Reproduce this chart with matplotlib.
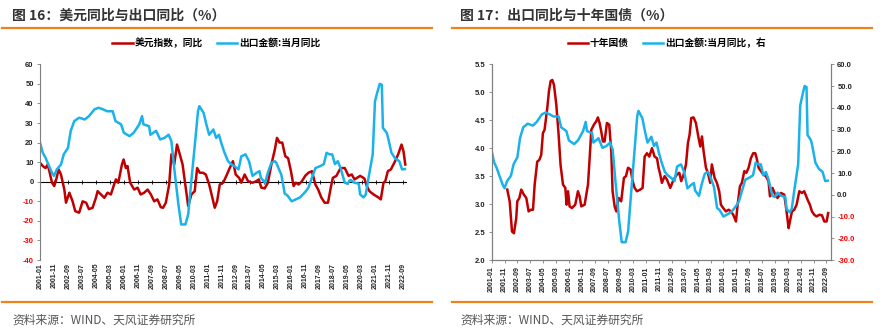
import matplotlib
matplotlib.use('Agg')
import matplotlib.pyplot as plt
from matplotlib.lines import Line2D

plt.rcParams['font.family'] = ['Noto Sans CJK SC', 'DejaVu Sans']

RED = '#C00000'
BLUE = '#1AB2EA'
ORANGE = '#F0821E'
GREY = '#7F7F7F'
TICKFONT = 'Liberation Sans'

# month index: 0 = 2001-01
tick_pos = list(range(0, 261, 10))
tick_labels = ['2001-01', '2001-11', '2002-09', '2003-07', '2004-05', '2005-03', '2006-01',
               '2006-11', '2007-09', '2008-07', '2009-05', '2010-03', '2011-01', '2011-11',
               '2012-09', '2013-07', '2014-05', '2015-03', '2016-01', '2016-11', '2017-09',
               '2018-07', '2019-05', '2020-03', '2021-01', '2021-11', '2022-09']

# 美元指数，同比 (%)
usd_m = [0, 2, 4, 5.5, 6.7, 8.6, 10.2, 11.9, 13.3, 15, 17.4, 18.6, 21, 23.3, 25.2, 28, 30.5, 33,
         35, 37.6, 40, 41.2, 43.6, 46, 48.3, 50.7, 53, 54.3, 56, 58.6, 59.8, 61.4, 62.6, 64.5,
         67.4, 69.8, 72, 74.5, 77, 79.3, 81.7, 84, 86.4, 88, 90, 92.4, 94, 96, 98, 100, 102,
         103.6, 106, 108.3, 110.7, 112.4, 114.3, 116.5, 118.6, 121, 123.3, 125, 126.7, 128.6,
         131, 133.3, 135.7, 138, 140, 142.4, 144, 146.4, 148.8, 152, 154.8, 156.5, 158.3, 160.7,
         163, 165.5, 168, 169.5, 171.4, 173.3, 174.5, 175.5, 177.5, 179.5, 181.4, 183, 185,
         187.4, 189.7, 192, 194.5, 197, 199, 201.2, 203.6, 206, 208, 209.5, 212, 215, 218,
         220.7, 223, 225, 229, 232, 233.8, 235.6, 238.6, 242, 243.8, 245.7, 247, 248.8, 251,
         254, 256.2, 258.6, 260, 261.3]
usd_v = [9.7, 8, 7, 8.8, 5.4, -0.5, -2.2, 2, 6.3, 3.7, -4, -10.7, -5.6, -10, -15, -15.8, -10,
         -10.7, -14, -13.3, -8.2, -4.8, -6.5, -8.2, -5.6, -6.5, -1.4, 1.2, -0.5, 8.8, 11.4, 7, 8,
         -0.5, -4, -3, -6.5, -5.6, -4, -6.5, -10, -9, -13, -13.3, -10.7, -1.4, 14, 8.8, 19, 14,
         8.8, 0.3, -12.4, -6.5, -4.8, 7, 4.6, 4.6, 3.7, -1.4, -8.2, -13.3, -10, -1.4, -0.5, 3,
         7, 10.5, 3.7, 2, -0.5, 3.7, 0.3, -0.5, 0.3, 1.2, -3, -3.4, -0.5, 8.8, 16.5, 22.4, 20,
         20, 16, 13, 12, 5.4, -2.2, -0.5, -1.4, 0.3, 3, 4.6, 5.4, -1.4, -4, -8, -10.7, -10.7,
         -3, 2, 3, 7, 7, 3, 3.7, 1.2, 3, 1.7, -2.2, -4.8, -6.5, -8, -9, -0.5, 0.3, 5.4, 6.3,
         10.5, 14, 19, 15.6, 8.8]

# 出口金额:当月同比 (%)
exp_m = [0, 2, 4, 6, 8.6, 10, 12, 15, 17, 20, 22, 24.5, 28, 32, 35, 39, 42, 45, 48, 52, 54, 58,
         60, 64, 67, 71, 73, 74, 78, 79, 83, 86, 89, 92, 94, 96, 99, 101, 104, 106, 108, 111,
         113, 114, 117, 119, 121, 124, 126, 128, 130, 132, 134.5, 137, 139, 142, 144, 147,
         149.5, 152, 155, 157, 158, 161, 163, 165.5, 168, 169, 171, 172.6, 174.3, 175, 177, 180,
         183, 186, 188, 190, 192, 194.5, 197, 200.5, 203, 205, 207, 209, 211, 213, 215, 218,
         220, 222, 225, 228, 229, 231.4, 233, 235, 238, 239.6, 241, 243, 244.5, 245.3, 248,
         249, 251.4, 254, 257, 259, 261]
exp_v = [20, 14.8, 12.2, 8.8, 4.6, 3, 6.3, 8.8, 14, 17.3, 26, 31, 32.7, 31.8, 33.5, 37, 37.8,
         37, 36, 36, 31, 29.3, 25, 23.3, 25, 29.3, 33.5, 29.3, 28.4, 24, 26, 21.6, 22.4, 24,
         20.7, 7, -11.6, -21.8, -21.8, -16.7, -1.4, 20.7, 36, 38.6, 35.2, 29.3, 24, 26.7, 22.4,
         24, 19, 14.8, 10.5, 8.8, 8, 6.3, 13, 14, 10.5, 3, 4.6, 5.4, 2, -0.5, 4.6, 9.7, 10.5,
         9.7, 6.3, 3.7, -3, -6, -7, -10, -9, -8, -6.5, -5, -3, 2, 7, 8, 9, 14.8, 14, 14, 9,
         10.5, 7, -0.5, -1, 1, -0.5, -1, -6.5, -8, -6.5, 2, 14, 41, 45, 50, 49.5, 27.5, 25,
         22.4, 14.8, 12, 10.5, 6.3, 6.5]

# 十年国债 (%)
bond_m = [12.1, 14, 15.8, 17.3, 19.1, 19.9, 21.5, 23, 25, 26.9, 28.7, 30.5, 32.1, 33.4, 35.4,
          37, 38.5, 39.8, 41.1, 43.2, 44.5, 45.8, 47.1, 48.4, 50.2, 52, 53.5, 55.4, 57.2, 58.2,
          59.3, 60.5, 62.3, 64.9, 67, 68.3, 69.6, 72.2, 74.8, 76.1, 77.4, 79.4, 81.2, 82.5, 83.8,
          85.1, 86.4, 87.7, 89.5, 91.3, 92.9, 93.9, 95.5, 96.8, 98.6, 100.6, 102.7, 104.3, 105.9,
          107.9, 109.5, 111, 112.8, 115.4, 117.2, 118.8, 120.6, 122.4, 124.5, 126.5, 128.4,
          129.6, 130.9, 132.2, 134.3, 136.1, 138.7, 141.3, 143.9, 145.7, 147.2, 149.1, 150.9,
          152.4, 153.7, 155, 156.8, 158.6, 160.7, 162, 163.3, 164.6, 166.4, 167.9, 169.7, 171,
          173.1, 174.9, 176.7, 178, 179.8, 181.9, 184, 185.8, 187.6, 189.7, 191, 192.8, 194.3,
          196.2, 197.8, 199.5, 201.3, 203.1, 204.7, 205.8, 207.3, 209.1, 210.9, 213, 215, 216.1,
          218.1, 220.2, 222, 224.6, 227.2, 229, 230.6, 231.6, 233.2, 235, 236.8, 238.9, 240.9,
          242.7, 245.3, 247.1, 248.7, 250.5, 252.3, 254.4, 256.5, 258.3, 260.1, 261.3]
bond_v = [3.26, 3.05, 2.51, 2.48, 2.75, 3.05, 3.11, 3.26, 3.17, 3.11, 2.87, 2.9, 2.9, 3.35, 3.76,
          3.79, 3.88, 4.27, 4.33, 4.72, 5.02, 5.2, 5.22, 5.13, 4.78, 4.24, 3.7, 3.35, 3.29, 2.99,
          3.23, 2.96, 2.93, 2.99, 3.23, 3.14, 2.96, 2.99, 3.35, 3.82, 4.33, 4.42, 4.48, 4.55,
          4.45, 4.3, 4.12, 4.12, 4.45, 4.42, 3.94, 3.23, 2.96, 2.87, 3.11, 3.05, 3.47, 3.5, 3.65,
          3.62, 3.41, 3.29, 3.23, 3.26, 3.29, 3.85, 3.91, 3.85, 4.0, 3.85, 3.82, 3.65, 3.53,
          3.38, 3.5, 3.44, 3.29, 3.44, 3.53, 3.56, 3.41, 3.53, 3.71, 4.09, 4.24, 4.54, 4.55,
          4.45, 4.18, 4.03, 4.21, 3.94, 3.65, 3.56, 3.38, 3.71, 3.47, 3.38, 3.23, 2.99, 2.93,
          2.87, 2.9, 2.87, 2.81, 2.69, 2.99, 3.32, 3.38, 3.59, 3.56, 3.65, 3.82, 3.91, 3.91,
          3.82, 3.65, 3.59, 3.53, 3.5, 3.41, 3.14, 3.29, 3.17, 3.11, 3.2, 3.17, 2.87, 2.57, 2.69,
          2.87, 2.9, 2.99, 3.23, 3.2, 3.23, 3.08, 2.99, 2.87, 2.81, 2.78, 2.81, 2.8, 2.69, 2.69,
          2.84]

left_yticks = list(range(-40, 61, 10))
bond_yticks = [2.0, 2.5, 3.0, 3.5, 4.0, 4.5, 5.0, 5.5]
exp_yticks = [-30, -20, -10, 0, 10, 20, 30, 40, 50, 60]


def style_yticks(ax, ticks, fmt, side='left'):
    ax.set_yticks(ticks)
    ax.set_yticklabels([fmt.format(t) for t in ticks], fontfamily=TICKFONT,
                       fontsize=5.5, fontweight='bold')
    for lab, t in zip(ax.get_yticklabels(), ticks):
        lab.set_color('red' if t < 0 else '#222222')
    ax.tick_params(axis='y', length=2.5, width=0.6, color=GREY, pad=2)


def style_xticks(ax):
    ax.set_xticks(tick_pos)
    ax.set_xticklabels(tick_labels, rotation=90, fontfamily=TICKFONT, fontsize=5,
                       fontweight='bold', color='#222222')


fig = plt.figure(figsize=(8.83, 3.33), dpi=100)

# ---- left: 美元同比与出口同比 ----
ax1 = fig.add_axes([0.0453, 0.219, 0.4156, 0.588])
ax1.plot(usd_m, usd_v, color=RED, lw=1.8, label='美元指数，同比')
ax1.plot(exp_m, exp_v, color=BLUE, lw=1.8, label='出口金额:当月同比')
ax1.axhline(0, color='black', lw=0.8, zorder=1)
ax1.set_xlim(0, 262.5)
ax1.set_ylim(-40, 60)
for s in ['top', 'right', 'bottom']:
    ax1.spines[s].set_visible(False)
ax1.spines['left'].set_color(GREY)
ax1.spines['left'].set_linewidth(0.8)
style_yticks(ax1, left_yticks, '{:d}')
style_xticks(ax1)
ax1.tick_params(axis='x', length=0, pad=2)
sec = ax1.secondary_xaxis(0.4)
sec.set_xticks(tick_pos)
sec.set_xticklabels([])
sec.tick_params(axis='x', length=2.5, width=0.6, direction='inout', color='black')
sec.spines['bottom'].set_visible(False)
ax1.legend(loc='center', bbox_to_anchor=(0.245, 0.871), bbox_transform=fig.transFigure,
           ncol=2, frameon=False, handlelength=2.1, handletextpad=0.2, columnspacing=1.4,
           prop={'size': 7, 'weight': 'bold'})

# ---- right: 出口同比与十年国债 ----
ax2 = fig.add_axes([0.5568, 0.219, 0.3843, 0.588])
ax3 = ax2.twinx()
l1, = ax2.plot(bond_m, bond_v, color=RED, lw=1.8, label='十年国债')
l2, = ax3.plot(exp_m, exp_v, color=BLUE, lw=1.8, label='出口金额:当月同比，右')
ax2.set_xlim(0, 263.5)
ax2.set_ylim(2.0, 5.5)
ax3.set_ylim(-30, 60)
ax2.spines['top'].set_visible(False)
ax3.spines['top'].set_visible(False)
for ax in (ax2, ax3):
    for s in ['left', 'right', 'bottom']:
        ax.spines[s].set_color(GREY)
        ax.spines[s].set_linewidth(0.8)
style_yticks(ax2, bond_yticks, '{:.1f}')
style_yticks(ax3, exp_yticks, '{:.1f}')
style_xticks(ax2)
ax2.tick_params(axis='x', length=2.5, width=0.6, color=GREY, pad=2)
ax2.legend(handles=[l1, l2], loc='center', bbox_to_anchor=(0.755, 0.871),
           bbox_transform=fig.transFigure, ncol=2, frameon=False, handlelength=2.1,
           handletextpad=0.2, columnspacing=1.4, prop={'size': 7, 'weight': 'bold'})

# ---- titles, rules, sources ----
fig.text(0.0136, 0.953, '图 16：美元同比与出口同比（%）', fontsize=10, fontweight='bold',
         color='#333333', va='center')
fig.text(0.521, 0.953, '图 17：出口同比与十年国债（%）', fontsize=10, fontweight='bold',
         color='#333333', va='center')
for x0, x1 in [(0.002, 0.489), (0.512, 0.988)]:
    for y in (0.916, 0.093):
        fig.add_artist(Line2D([x0, x1], [y, y], transform=fig.transFigure, color=ORANGE, lw=1.6))
fig.text(0.0136, 0.04, '资料来源：WIND、天风证券研究所', fontsize=8.5, color='#555555', va='center')
fig.text(0.521, 0.04, '资料来源：WIND、天风证券研究所', fontsize=8.5, color='#555555', va='center')

fig.savefig('out.png', dpi=100)
